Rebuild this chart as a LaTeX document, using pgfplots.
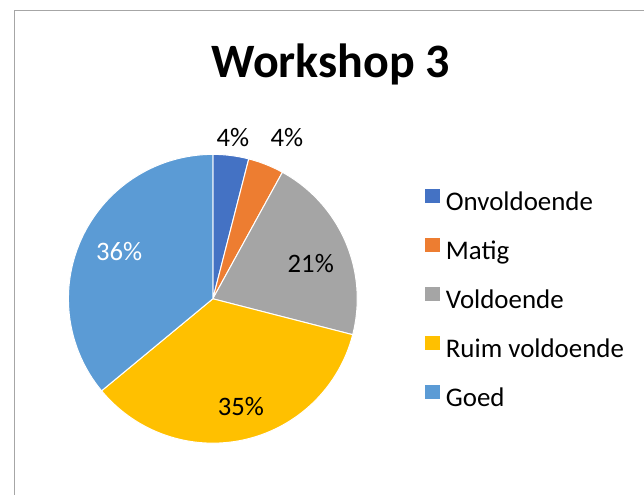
\documentclass[border=0pt]{standalone}
\usepackage{fontspec}
\setmainfont{Carlito}
\usepackage{pgfplots}
\pgfplotsset{compat=1.18}
\definecolor{onv}{HTML}{4472C4}
\definecolor{mat}{HTML}{ED7D31}
\definecolor{vol}{HTML}{A5A5A5}
\definecolor{ruim}{HTML}{FFC000}
\definecolor{goed}{HTML}{5B9BD5}
\definecolor{bord}{HTML}{A6A6A6}
% shares (percent)
\def\vA{4}\def\vB{4}\def\vC{21}\def\vD{35}\def\vE{36}
\pgfmathsetmacro\angA{90}
\pgfmathsetmacro\angB{\angA-3.6*\vA}
\pgfmathsetmacro\angC{\angB-3.6*\vB}
\pgfmathsetmacro\angD{\angC-3.6*\vC}
\pgfmathsetmacro\angE{\angD-3.6*\vD}
\pgfmathsetmacro\angF{\angE-3.6*\vE}
\begin{document}
\begin{tikzpicture}
\begin{axis}[
  x=0.75pt, y=0.75pt,
  xmin=0, xmax=644, ymin=0, ymax=495,
  hide axis, clip=false,
  legend image code/.code={\fill[#1, draw=none] (0pt,0.5pt) rectangle (11pt,11.5pt);},
  legend cell align=left,
  legend style={
    at={(axis cs:425,306.4)}, anchor=north west,
    draw=none, fill=none, inner sep=0pt,
    font=\fontsize{20.2}{24}\selectfont,
    row sep=16.3pt,
    nodes={inner sep=0pt, text height=14pt, text depth=4pt},
    /tikz/every odd column/.append style={column sep=4.7pt},
  },
]
\path (axis cs:0,0) rectangle (axis cs:644,495);
\draw[bord, line width=0.75pt] (axis cs:15,0) -- (axis cs:15,484) -- (axis cs:644,484);

\addplot[fill=onv, draw=white, line width=0.75pt, line join=round, domain=\angB:\angA, samples=20]
  ({213+144.5*cos(x)},{196+144.5*sin(x)}) -- (axis cs:213,196) -- cycle;
\addlegendentry{Onvoldoende}
\addplot[fill=mat, draw=white, line width=0.75pt, line join=round, domain=\angC:\angB, samples=20]
  ({213+144.5*cos(x)},{196+144.5*sin(x)}) -- (axis cs:213,196) -- cycle;
\addlegendentry{Matig}
\addplot[fill=vol, draw=white, line width=0.75pt, line join=round, domain=\angD:\angC, samples=80]
  ({213+144.5*cos(x)},{196+144.5*sin(x)}) -- (axis cs:213,196) -- cycle;
\addlegendentry{Voldoende}
\addplot[fill=ruim, draw=white, line width=0.75pt, line join=round, domain=\angE:\angD, samples=120]
  ({213+144.5*cos(x)},{196+144.5*sin(x)}) -- (axis cs:213,196) -- cycle;
\addlegendentry{Ruim voldoende}
\addplot[fill=goed, draw=white, line width=0.75pt, line join=round, domain=\angF:\angE, samples=120]
  ({213+144.5*cos(x)},{196+144.5*sin(x)}) -- (axis cs:213,196) -- cycle;
\addlegendentry{Goed}

\node[font=\fontsize{20}{24}\selectfont, inner sep=0pt] at (axis cs:233,357.5) {4\%};
\node[font=\fontsize{20}{24}\selectfont, inner sep=0pt] at (axis cs:287,357.5) {4\%};
\node[font=\fontsize{20}{24}\selectfont, inner sep=0pt] at (axis cs:311,231.7) {21\%};
\node[font=\fontsize{20}{24}\selectfont, inner sep=0pt] at (axis cs:241,88.3) {35\%};
\node[font=\fontsize{20}{24}\selectfont, inner sep=0pt, text=white] at (axis cs:119.3,243.3) {36\%};

\node[font=\fontsize{36}{40}\selectfont\bfseries, inner sep=0pt, anchor=base] at (axis cs:331,417) {Workshop 3};
\end{axis}
\end{tikzpicture}
\end{document}
